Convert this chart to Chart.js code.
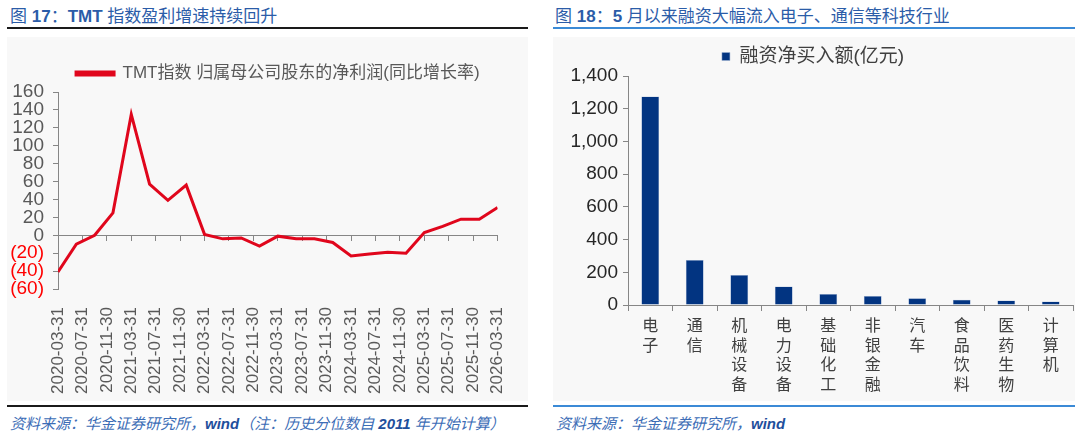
<!DOCTYPE html>
<html>
<head>
<meta charset="utf-8">
<script src="https://cdn.jsdelivr.net/npm/chart.js@4.4.1/dist/chart.umd.min.js"></script>
<style>
  html, body { margin: 0; padding: 0; background: #fff; }
  body { width: 1080px; height: 436px; position: relative; overflow: hidden;
         font-family: "Liberation Sans", "Noto Sans CJK SC", sans-serif; }
  .title { position: absolute; top: 2px; font-size: 17px; color: #2b5ca8; white-space: nowrap; }
  .title b { font-weight: bold; font-family: "Liberation Sans", sans-serif; }
  .rule { position: absolute; height: 2px; }
  .panel { position: absolute; top: 37px; height: 364px; background: #f8f8f8; }
  .source { position: absolute; top: 412px; font-size: 15px; font-style: italic; color: #3c6db6; white-space: nowrap; }
  .source b { font-family: "Liberation Sans", sans-serif; color: #1f4f9c; font-weight: bold; }
</style>
</head>
<body>
<div class="title" style="left:10px">图 <b>17</b>：<b>TMT</b> 指数盈利增速持续回升</div>
<div class="rule" style="left:7px; width:521px; top:27px; background:#1a1a1a"></div>
<div class="panel" style="left:7px; width:521px"><canvas id="left"></canvas></div>
<div class="rule" style="left:7px; width:521px; top:405px; background:#1a1a1a"></div>
<div class="source" style="left:10px">资料来源：华金证券研究所，<b>wind</b>（注：历史分位数自 <b>2011</b> 年开始计算）</div>

<div class="title" style="left:555px">图 <b>18</b>：<b>5</b> 月以来融资大幅流入电子、通信等科技行业</div>
<div class="rule" style="left:553px; width:522px; top:27px; background:#3b8ad6"></div>
<div class="panel" style="left:553px; width:522px"><canvas id="right"></canvas></div>
<div class="rule" style="left:553px; width:522px; top:405px; background:#3b8ad6"></div>
<div class="source" style="left:556px">资料来源：华金证券研究所，<b>wind</b></div>

<script>
"use strict";

// ---- data: TMT index net profit yoy (%) by quarter end ----
const quarterEnds = [
  "2020-03-31", "2020-06-30", "2020-09-30", "2020-12-31",
  "2021-03-31", "2021-06-30", "2021-09-30", "2021-12-31",
  "2022-03-31", "2022-06-30", "2022-09-30", "2022-12-31",
  "2023-03-31", "2023-06-30", "2023-09-30", "2023-12-31",
  "2024-03-31", "2024-06-30", "2024-09-30", "2024-12-31",
  "2025-03-31", "2025-06-30", "2025-09-30", "2025-12-31",
  "2026-03-31",
];
const profitYoY = [
  -41, -10, 0, 25,
  135, 57, 39, 56,
  1, -4, -3, -12,
  -1, -4, -4, -8,
  -23, -21, -19, -20,
  3, 10, 18, 18,
  31,
];
const dateTicks = [
  "2020-03-31", "2020-07-31", "2020-11-30", "2021-03-31", "2021-07-31", "2021-11-30",
  "2022-03-31", "2022-07-31", "2022-11-30", "2023-03-31", "2023-07-31", "2023-11-30",
  "2024-03-31", "2024-07-31", "2024-11-30", "2025-03-31", "2025-07-31", "2025-11-30",
  "2026-03-31",
];
const profitTicks = [-60, -40, -20, 0, 20, 40, 60, 80, 100, 120, 140, 160];

// ---- data: margin net buying since May (100m CNY) ----
const industries = ["电子", "通信", "机械设备", "电力设备", "基础化工", "非银金融", "汽车", "食品饮料", "医药生物", "计算机"];
const netBuy = [1275, 275, 183, 113, 68, 55, 42, 32, 28, 22];
const netBuyTicks = [0, 200, 400, 600, 800, 1000, 1200, 1400];

const GRAY = "#595959";
const AXIS = "#868686";
const RED = "#e0061c";
const NAVY = "#023481";
const FONT = "'Liberation Sans', 'Noto Sans CJK SC', sans-serif";

// month offset from 2020-03, used as the linear x value
const monthIndex = (d) => (Number(d.slice(0, 4)) - 2020) * 12 + Number(d.slice(5, 7)) - 3;
const lastMonth = monthIndex(dateTicks[dateTicks.length - 1]);

function sizeCanvas(id, w, h) {
  const c = document.getElementById(id);
  c.style.width = w + "px";
  c.style.height = h + "px";
  c.width = w;
  c.height = h;
  return c;
}

// ---- left: line chart ----
new Chart(sizeCanvas("left", 521, 364), {
  type: "line",
  data: {
    datasets: [{
      label: "TMT指数 归属母公司股东的净利润(同比增长率)",
      data: quarterEnds.map((d, i) => ({ x: monthIndex(d), y: profitYoY[i] })),
      borderColor: RED,
      backgroundColor: RED,
      borderWidth: 3,
      pointRadius: 0,
      tension: 0,
      xAxisID: "x",
      yAxisID: "y",
    }],
  },
  options: {
    responsive: false,
    animation: false,
    layout: { padding: { left: 0, right: 11, top: 22, bottom: 0 } },
    plugins: {
      tooltip: { enabled: false },
      legend: {
        position: "top",
        fullSize: false,
        labels: { boxWidth: 38, boxHeight: 3, padding: 6, color: GRAY, font: { family: FONT, size: 17 } },
      },
    },
    scales: {
      x: {
        type: "linear", min: 0, max: lastMonth,
        grid: { display: false },
        border: { display: false },
        ticks: {
          stepSize: 4, maxTicksLimit: 40, autoSkip: false, minRotation: 90, maxRotation: 90,
          padding: 10, color: GRAY, font: { family: FONT, size: 17 },
          callback: (v) => dateTicks[v / 4] || "",
        },
        afterFit: (s) => { s.height = 112; },
      },
      xz: {
        type: "linear", min: 0, max: lastMonth, position: { y: 0 },
        grid: { drawOnChartArea: false, drawTicks: true, tickLength: 5, color: AXIS },
        border: { display: true, color: AXIS },
        ticks: { display: false, stepSize: 4, maxTicksLimit: 40 },
      },
      y: {
        min: -60, max: 160,
        grid: { drawOnChartArea: false, drawTicks: true, tickLength: 5, color: AXIS },
        border: { display: true, color: AXIS },
        ticks: {
          stepSize: 20, maxTicksLimit: 20, autoSkip: false, padding: 9,
          font: { family: FONT, size: 19 },
          color: (ctx) => (ctx.tick && ctx.tick.value < 0 ? "#ff0000" : GRAY),
          callback: (v) => (profitTicks.includes(v) ? (v < 0 ? "(" + (-v) + ")" : String(v)) : ""),
        },
        afterFit: (s) => { s.width = 51; },
      },
    },
  },
});

// ---- right: bar chart ----
new Chart(sizeCanvas("right", 522, 364), {
  type: "bar",
  data: {
    labels: industries.map((s) => s.split("")),
    datasets: [{
      label: "融资净买入额(亿元)",
      data: netBuy,
      backgroundColor: NAVY,
      borderColor: "#9fb3d3",
      borderWidth: 0.5,
      barPercentage: 0.8,
      categoryPercentage: 0.5,
    }],
  },
  options: {
    responsive: false,
    animation: false,
    layout: { padding: { left: 0, right: 2, top: 0, bottom: 0 } },
    plugins: {
      tooltip: { enabled: false },
      legend: {
        position: "top",
        labels: { boxWidth: 8, boxHeight: 8, padding: 10, color: "#404040", font: { family: FONT, size: 19 } },
      },
    },
    scales: {
      x: {
        grid: { offset: true, drawOnChartArea: false, drawTicks: true, tickLength: 6, color: AXIS },
        border: { display: true, color: AXIS },
        ticks: {
          maxRotation: 0, minRotation: 0, autoSkip: false, padding: 6,
          color: "#404040", font: { family: FONT, size: 16, lineHeight: 1.22 },
        },
        afterFit: (s) => { s.height = 96; },
      },
      y: {
        min: 0, max: 1400,
        grid: { drawOnChartArea: false, drawTicks: true, tickLength: 5, color: AXIS },
        border: { display: true, color: AXIS },
        ticks: {
          stepSize: 200, padding: 5, color: "#262626", font: { family: FONT, size: 19 },
          callback: (v) => (netBuyTicks.includes(v) ? v.toLocaleString("en-US") : ""),
        },
        afterFit: (s) => { s.width = 75; },
      },
    },
  },
});
</script>
</body>
</html>
